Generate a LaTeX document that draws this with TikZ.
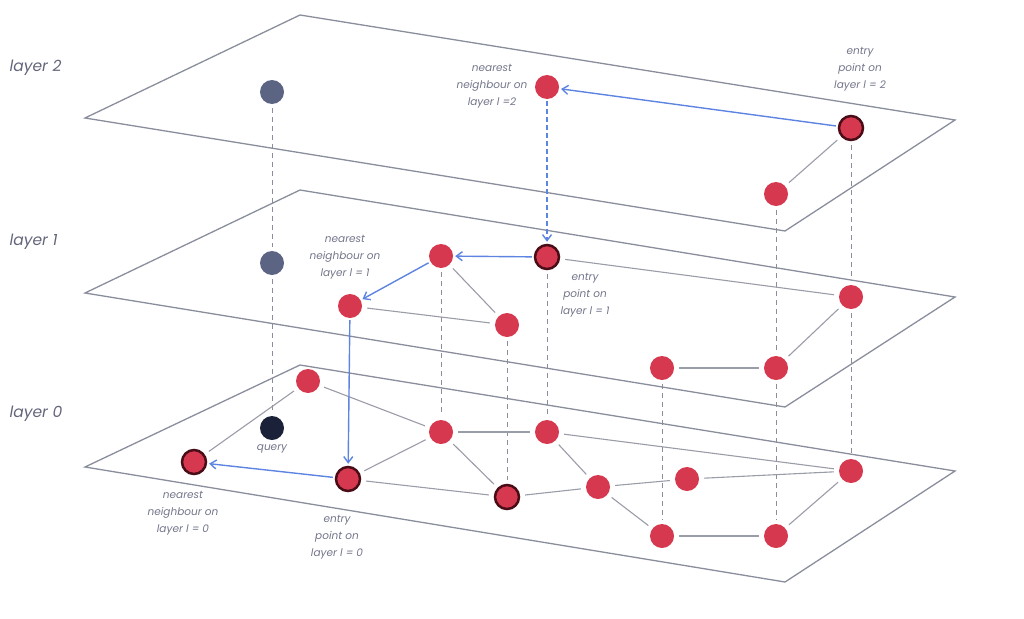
\documentclass[tikz,border=0pt]{standalone}
\usepackage{fontspec}
\setmainfont{Poppins}
\usetikzlibrary{arrows.meta}
\definecolor{nodered}{HTML}{D6394F}
\definecolor{darkrim}{HTML}{4A0D17}
\definecolor{slate}{HTML}{5B6483}
\definecolor{navy}{HTML}{1B2138}
\definecolor{planec}{HTML}{8A8D9C}
\definecolor{edgec}{HTML}{9A9CA8}
\definecolor{bluec}{HTML}{5E84E2}
\definecolor{textc}{HTML}{72758A}
\definecolor{layc}{HTML}{63667A}
\begin{document}
\begin{tikzpicture}[x=1pt,y=-1pt,
  plane/.style={draw=planec,line width=1.3pt,line join=miter},
  rnode/.style={circle,fill=nodered,inner sep=0pt,minimum size=24pt},
  dnode/.style={circle,fill=nodered,draw=darkrim,line width=2.5pt,inner sep=0pt,minimum size=24pt},
  snode/.style={circle,fill=slate,inner sep=0pt,minimum size=24pt},
  qnode/.style={circle,fill=navy,inner sep=0pt,minimum size=24pt},
  gedge/.style={draw=edgec,line width=1.1pt,shorten <=5pt,shorten >=5pt},
  vdash/.style={draw=planec,line width=0.9pt,dash pattern=on 5pt off 4pt,shorten <=4pt,shorten >=4pt},
  barrow/.style={draw=bluec,line width=1.4pt,-{Straight Barb[length=6pt,width=9pt]},shorten <=2pt,shorten >=2pt},
  bdash/.style={barrow,dash pattern=on 5pt off 3pt},
  lbl/.style={text=textc,align=center,font=\fontsize{10.5}{17}\selectfont\itshape},
  laylbl/.style={text=layc,font=\fontsize{15.5}{18}\selectfont\itshape,anchor=west}
]
\useasboundingbox (0,0) rectangle (1024,618);
% planes
\draw[plane] (85,118) -- (300,15) -- (955,120) -- (785,231) -- cycle;
\draw[plane] (85,293) -- (300,190) -- (955,297) -- (785,407) -- cycle;
\draw[plane] (85,467) -- (300,365) -- (955,471) -- (785,582) -- cycle;
% layer labels
\node[laylbl] (l2) at (6,68) {layer 2};
\node[laylbl] (l1) at (6,242) {layer 1};
\node[laylbl] (l0) at (6,414) {layer 0};
% layer 2 nodes
\node[snode] (q2) at (272,92) {};
\node[rnode] (n2) at (547,87) {};
\node[dnode] (e2) at (851,128) {};
\node[rnode] (r2) at (776,194) {};
% layer 1 nodes
\node[snode] (q1) at (272,263) {};
\node[dnode] (e1) at (547,257) {};
\node[rnode] (a1) at (441,256) {};
\node[rnode] (nn1) at (350,306) {};
\node[rnode] (b1) at (507,325) {};
\node[rnode] (c1) at (851,297) {};
\node[rnode] (d1) at (776,368) {};
\node[rnode] (f1) at (662,368) {};
% layer 0 nodes
\node[qnode] (q0) at (272,428) {};
\node[dnode] (nn0) at (194,462) {};
\node[dnode] (ep0) at (348,479) {};
\node[rnode] (g0) at (308,381) {};
\node[rnode] (h0) at (441,432) {};
\node[rnode] (i0) at (547,432) {};
\node[dnode] (j0) at (507,497) {};
\node[rnode] (k0) at (598,487) {};
\node[rnode] (l0n) at (687,479) {};
\node[rnode] (m0) at (851,471) {};
\node[rnode] (p0) at (662,536) {};
\node[rnode] (r0) at (776,536) {};
% vertical dashed
\draw[vdash] (q2) -- (q1);
\draw[vdash] (q1) -- (q0);
\draw[vdash] (e2) -- (c1);
\draw[vdash] (c1) -- (m0);
\draw[vdash] (r2) -- (d1);
\draw[vdash] (d1) -- (r0);
\draw[vdash] (f1) -- (p0);
\draw[vdash] (a1) -- (h0);
\draw[vdash] (b1) -- (j0);
\draw[vdash] (e1) -- (i0);
% graph edges
\draw[gedge] (e2) -- (r2);
\draw[gedge] (a1) -- (b1);
\draw[gedge] (nn1) -- (b1);
\draw[gedge] (e1) -- (c1);
\draw[gedge] (c1) -- (d1);
\draw[gedge] (f1) -- (d1);
\draw[gedge] (nn0) -- (g0);
\draw[gedge] (g0) -- (h0);
\draw[gedge] (h0) -- (i0);
\draw[gedge] (ep0) -- (h0);
\draw[gedge] (h0) -- (j0);
\draw[gedge] (ep0) -- (j0);
\draw[gedge] (i0) -- (m0);
\draw[gedge] (i0) -- (k0);
\draw[gedge] (j0) -- (k0);
\draw[gedge] (k0) -- (l0n);
\draw[gedge] (l0n) -- (m0);
\draw[gedge] (k0) -- (p0);
\draw[gedge] (p0) -- (r0);
\draw[gedge] (r0) -- (m0);
% search path
\draw[barrow] (e2) -- (n2);
\draw[bdash] (n2) -- (e1);
\draw[barrow] (e1) -- (a1);
\draw[barrow] (a1) -- (nn1);
\draw[barrow] (nn1) -- (ep0);
\draw[barrow] (ep0) -- (nn0);
% labels
\node[lbl] (t1) at (492,86) {nearest\\neighbour on\\layer l =2};
\node[lbl] (t2) at (860,69) {entry\\point on\\layer l = 2};
\node[lbl] (t3) at (345,257) {nearest\\neighbour on\\layer l = 1};
\node[lbl] (t4) at (585,295) {entry\\point on\\layer l = 1};
\node[lbl] (t5) at (272,449) {query};
\node[lbl] (t6) at (183,513) {nearest\\neighbour on\\layer l = 0};
\node[lbl] (t7) at (337,537) {entry\\point on\\layer l = 0};
\end{tikzpicture}
\end{document}
